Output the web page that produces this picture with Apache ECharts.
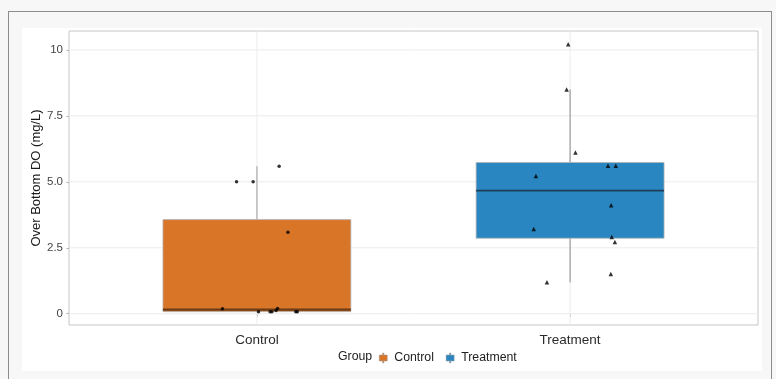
<!DOCTYPE html>
<html>
<head>
<meta charset="utf-8">
<script src="https://cdn.jsdelivr.net/npm/echarts@6/dist/echarts.min.js"></script>
<style>
  html, body { margin: 0; padding: 0; background: #f7f7f7; }
  #frame { position: absolute; left: 8px; top: 11px; width: 764px; height: 380px;
           border: 1px solid #8c8c8c; border-bottom: none; box-sizing: border-box; }
  #plate { position: absolute; left: 22px; top: 28px; width: 740px; height: 343px; background: #ffffff; }
  #chart { position: absolute; left: 0; top: 0; width: 776px; height: 379px; }
</style>
</head>
<body>
<div id="frame"></div>
<div id="plate"></div>
<div id="chart"></div>
<script>
// Groups and their colours
const groups = ['Control', 'Treatment'];
const groupColors = ['#d97527', '#2986c0'];
const medianColors = ['#6b3c17', '#1d3f58'];

// Over-bottom dissolved oxygen readings (mg/L), with jittered x positions
const controlX = [0.935, 0.988, 1.071, 1.099, 0.890, 1.005, 1.042, 1.048, 1.061, 1.066, 1.124, 1.129];
const controlY = [5.00, 5.00, 5.59, 3.09, 0.19, 0.08, 0.08, 0.08, 0.12, 0.20, 0.08, 0.08];
const treatmentX = [1.994, 1.989, 2.017, 2.121, 2.146, 1.891, 2.131, 1.884, 2.133, 2.143, 2.130, 1.926];
const treatmentY = [10.21, 8.50, 6.11, 5.61, 5.61, 5.22, 4.11, 3.21, 2.91, 2.72, 1.51, 1.19];

// Axis ticks
const yTicks = [0, 2.5, 5, 7.5, 10];
const yTickLabels = ['0', '2.5', '5.0', '7.5', '10'];
const xTicks = [1, 2];

// Quantile (linear interpolation between order statistics)
function quantile(sorted, p) {
  const h = (sorted.length - 1) * p;
  const lo = Math.floor(h), hi = Math.ceil(h);
  return sorted[lo] + (h - lo) * (sorted[hi] - sorted[lo]);
}
// Box statistics with 1.5*IQR whiskers
function boxStats(values, x) {
  const s = values.slice().sort((a, b) => a - b);
  const q1 = quantile(s, 0.25), med = quantile(s, 0.5), q3 = quantile(s, 0.75);
  const iqr = q3 - q1;
  const inside = s.filter(v => v >= q1 - 1.5 * iqr && v <= q3 + 1.5 * iqr);
  return [x, inside[0], q1, med, q3, inside[inside.length - 1]];
}

const allY = controlY.concat(treatmentY);
const yLo = Math.min.apply(null, allY), yHi = Math.max.apply(null, allY);
const yPad = (yHi - yLo) * 0.05;
const xMin = 0.4, xMax = 2.6;

const boxHalf = 0.3;
function boxRenderer(idx) {
  return function (params, api) {
    const x = api.value(0), lo = api.value(1), q1 = api.value(2),
          med = api.value(3), q3 = api.value(4), hi = api.value(5);
    const tl = api.coord([x - boxHalf, q3]);
    const br = api.coord([x + boxHalf, q1]);
    const top = api.coord([x, hi]), q3p = api.coord([x, q3]);
    const bot = api.coord([x, lo]), q1p = api.coord([x, q1]);
    const ml = api.coord([x - boxHalf, med]), mr = api.coord([x + boxHalf, med]);
    const whiskerStyle = idx === 0
      ? { stroke: '#bdbdbd', lineWidth: 1.6 }
      : { stroke: '#8a8a8a', lineWidth: 1 };
    return {
      type: 'group',
      children: [
        { type: 'line', shape: { x1: top[0], y1: top[1], x2: q3p[0], y2: q3p[1] }, style: whiskerStyle },
        { type: 'line', shape: { x1: bot[0], y1: bot[1], x2: q1p[0], y2: q1p[1] }, style: whiskerStyle },
        { type: 'rect', shape: { x: tl[0], y: tl[1], width: br[0] - tl[0], height: br[1] - tl[1] },
          style: { fill: groupColors[idx], stroke: '#b4b4b4', lineWidth: 0.8 } },
        { type: 'line', shape: { x1: ml[0], y1: ml[1], x2: mr[0], y2: mr[1] },
          style: { stroke: medianColors[idx], lineWidth: idx === 0 ? 2.3 : 1.8 } }
      ]
    };
  };
}

// Panel gridlines at the major ticks, drawn beneath the boxes
function gridRenderer(params, api) {
  const lines = [];
  const gridStyle = { stroke: '#ececec', lineWidth: 1 };
  yTicks.forEach(v => {
    const a = api.coord([xMin, v]), b = api.coord([xMax, v]);
    lines.push({ type: 'line', shape: { x1: a[0], y1: a[1], x2: b[0], y2: b[1] }, style: gridStyle });
  });
  xTicks.forEach(v => {
    const a = api.coord([v, yLo - yPad]), b = api.coord([v, yHi + yPad]);
    lines.push({ type: 'line', shape: { x1: a[0], y1: a[1], x2: b[0], y2: b[1] }, style: gridStyle });
  });
  return { type: 'group', children: lines };
}

const boxIcon = 'path://M3.4,0 H4.6 V2 H3.4 Z M3.4,8 H4.6 V10 H3.4 Z M0,2 H8 V8 H0 Z';
const fontFamily = '"Liberation Sans", Arial, sans-serif';

const chart = echarts.init(document.getElementById('chart'), null, { renderer: 'canvas' });
chart.setOption({
  animation: false,
  backgroundColor: 'transparent',
  textStyle: { fontFamily: fontFamily },
  grid: {
    left: 69, right: 18, top: 31, bottom: 54,
    show: true, backgroundColor: '#ffffff', borderColor: '#c6c6c6', borderWidth: 1
  },
  xAxis: {
    type: 'value', min: xMin, max: xMax,
    axisLine: { show: false },
    splitLine: { show: false },
    axisTick: { show: true, customValues: xTicks, length: 3, lineStyle: { color: '#b0b0b0' } },
    axisLabel: {
      customValues: xTicks, margin: 8, color: '#2b2b2b', fontSize: 13.5, fontFamily: fontFamily,
      formatter: v => groups[Math.round(v) - 1]
    }
  },
  yAxis: {
    type: 'value', min: yLo - yPad, max: yHi + yPad,
    name: 'Over Bottom DO (mg/L)', nameLocation: 'middle', nameRotate: 90, nameGap: 26,
    nameMoveOverlap: false,
    nameTextStyle: { color: '#1a1a1a', fontSize: 13, fontFamily: fontFamily },
    axisLine: { show: false },
    splitLine: { show: false },
    axisTick: { show: true, customValues: yTicks, length: 2.5, lineStyle: { color: '#b0b0b0' } },
    axisLabel: {
      customValues: yTicks, margin: 6, color: '#444444', fontSize: 11.5, fontFamily: fontFamily,
      formatter: v => yTickLabels[yTicks.indexOf(v)] || ''
    }
  },
  legend: {
    data: groups.map((g, i) => ({ name: g, icon: boxIcon, itemStyle: { color: groupColors[i], borderColor: '#9a9a9a', borderWidth: 0.5 } })),
    left: 379, top: 352, padding: 0,
    itemWidth: 8, itemHeight: 10, itemGap: 12,
    textStyle: { color: '#222222', fontSize: 12.3, fontFamily: fontFamily, padding: [0, 0, 0, 2] },
    selectedMode: false
  },
  graphic: [
    { type: 'text', x: 338, y: 357, silent: true,
      style: { text: 'Group', fill: '#222222', font: '12.3px ' + fontFamily, verticalAlign: 'middle' } }
  ],
  series: [
    {
      name: 'gridlines', type: 'custom', z: 1, silent: true,
      renderItem: gridRenderer,
      data: [[xMin, 0]]
    },
    {
      name: 'Control', type: 'custom', z: 2,
      itemStyle: { color: groupColors[0] },
      renderItem: boxRenderer(0),
      encode: { x: 0, y: [1, 2, 3, 4, 5] },
      data: [boxStats(controlY, 1)]
    },
    {
      name: 'Treatment', type: 'custom', z: 2,
      itemStyle: { color: groupColors[1] },
      renderItem: boxRenderer(1),
      encode: { x: 0, y: [1, 2, 3, 4, 5] },
      data: [boxStats(treatmentY, 2)]
    },
    {
      name: 'Control points', type: 'scatter', z: 3, silent: true,
      symbol: 'circle', symbolSize: 3.5,
      itemStyle: { color: '#000000' },
      data: controlX.map((x, i) => [x, controlY[i]])
    },
    {
      name: 'Treatment points', type: 'scatter', z: 3, silent: true,
      symbol: 'triangle', symbolSize: 4.5,
      itemStyle: { color: '#000000' },
      data: treatmentX.map((x, i) => [x, treatmentY[i]])
    }
  ]
});
</script>
</body>
</html>
